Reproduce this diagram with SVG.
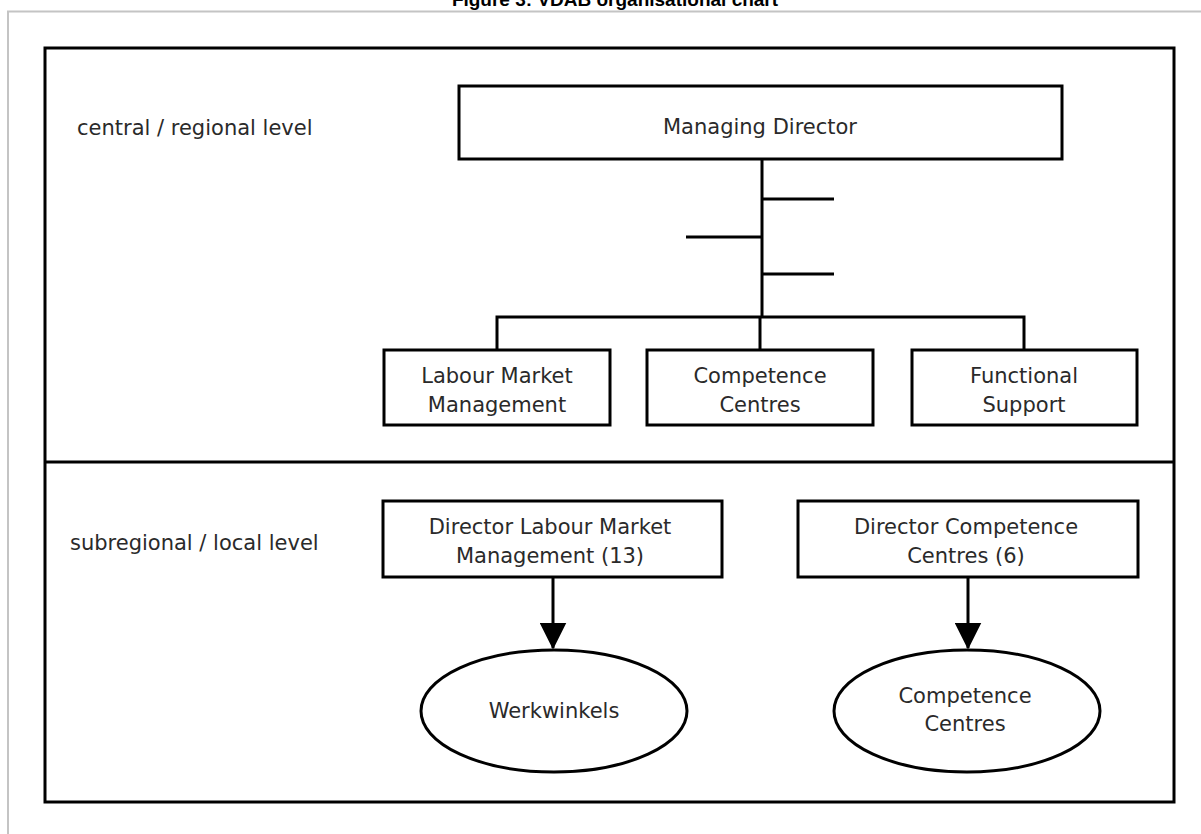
<svg xmlns="http://www.w3.org/2000/svg" width="1201" height="834" viewBox="0 0 1201 834">
<defs>
<style>
.box{fill:#fff;stroke:#000;stroke-width:3}
.ln{fill:none;stroke:#000;stroke-width:3}
.t{font-family:"DejaVu Sans","Verdana",sans-serif;font-size:21px;fill:#2a2a2a;text-anchor:middle}
.lbl{font-family:"DejaVu Sans","Verdana",sans-serif;font-size:21px;fill:#2a2a2a}
</style>
<marker id="arr" markerWidth="9" markerHeight="9" refX="8.5" refY="4.5" orient="auto" markerUnits="strokeWidth">
<path d="M0,0 L9,4.5 L0,9 Z" fill="#000"/>
</marker>
</defs>
<rect width="1201" height="834" fill="#fff"/>
<text x="615" y="6" font-family="Liberation Sans, Arial, sans-serif" font-size="19" font-weight="bold" text-anchor="middle" fill="#000">Figure 3: VDAB organisational chart</text>
<path d="M8,834 V11.5 H1201" fill="none" stroke="#c4c4c4" stroke-width="2"/>
<g id="frame">
<rect x="45" y="48" width="1129" height="754" class="ln"/>
<line x1="45" y1="462" x2="1174" y2="462" class="ln"/>
</g>
<text class="lbl" x="77" y="135">central / regional level</text>
<text class="lbl" x="70" y="550">subregional / local level</text>
<g id="connectors">
<path class="ln" d="M762,160 V317"/>
<path class="ln" d="M762,199 H834"/>
<path class="ln" d="M686,237 H762"/>
<path class="ln" d="M762,274 H834"/>
<path class="ln" d="M497,350 V317 H1024 V350"/>
<path class="ln" d="M760,317 V350"/>
<path class="ln" d="M553,577 V648" marker-end="url(#arr)"/>
<path class="ln" d="M968,577 V648" marker-end="url(#arr)"/>
</g>
<g id="managing-director">
<rect class="box" x="459" y="86" width="603" height="73"/>
<text class="t" x="760" y="134">Managing Director</text>
</g>
<g id="labour-market-management">
<rect class="box" x="384" y="350" width="226" height="75"/>
<text class="t" x="497" y="383">Labour Market</text>
<text class="t" x="497" y="412">Management</text>
</g>
<g id="competence-centres">
<rect class="box" x="647" y="350" width="226" height="75"/>
<text class="t" x="760" y="383">Competence</text>
<text class="t" x="760" y="412">Centres</text>
</g>
<g id="functional-support">
<rect class="box" x="912" y="350" width="225" height="75"/>
<text class="t" x="1024" y="383">Functional</text>
<text class="t" x="1024" y="412">Support</text>
</g>
<g id="director-lmm">
<rect class="box" x="383" y="501" width="339" height="76"/>
<text class="t" x="550" y="534">Director Labour Market</text>
<text class="t" x="550" y="563">Management (13)</text>
</g>
<g id="director-cc">
<rect class="box" x="798" y="501" width="340" height="76"/>
<text class="t" x="966" y="534">Director Competence</text>
<text class="t" x="966" y="563">Centres (6)</text>
</g>
<g id="werkwinkels">
<ellipse class="box" cx="554" cy="711" rx="133" ry="61"/>
<text class="t" x="554" y="718">Werkwinkels</text>
</g>
<g id="competence-centres-local">
<ellipse class="box" cx="967" cy="711" rx="133" ry="61"/>
<text class="t" x="965" y="703">Competence</text>
<text class="t" x="965" y="731">Centres</text>
</g>
</svg>
